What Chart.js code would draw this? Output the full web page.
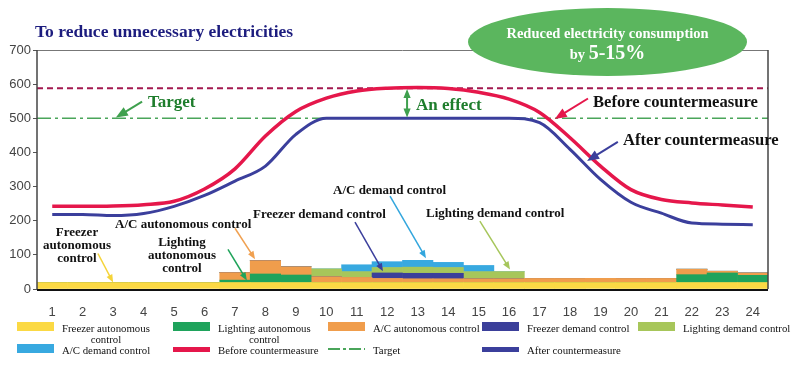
<!DOCTYPE html>
<html>
<head>
<meta charset="utf-8">
<script src="https://cdn.jsdelivr.net/npm/chart.js@4.4.1/dist/chart.umd.min.js"></script>
<style>
  body { margin: 0; background: #fff; }
  #wrap { position: relative; width: 800px; height: 365px; overflow: hidden; }
  canvas { position: absolute; left: 0; top: 0; }
  .note {
    position: absolute; white-space: nowrap; line-height: 1;
    font-family: 'Liberation Serif', 'DejaVu Serif', serif; font-weight: bold;
    color: #111; transform: translateY(-50%);
  }
  .center { text-align: center; transform: translate(-50%, -50%); }
  .title { color: #1c1c7e; font-size: 17.5px; }
  .green { color: #1e7d2c; font-size: 17px; }
  .big { font-size: 16.6px; }
  .small { font-size: 13px; line-height: 13px; }
  #bubble {
    position: absolute; left: 468px; top: 8px; width: 279px; height: 68px;
    border-radius: 50%; background: #5bb65e; color: #fff;
    font-family: 'Liberation Serif', serif; font-weight: bold; text-align: center;
  }
  .leg { position: absolute; font-family: 'Liberation Serif', serif; font-size: 10.8px; line-height: 11px; color: #111; white-space: nowrap; }
  .sw { position: absolute; width: 37px; }
</style>
</head>
<body>
<div id="wrap">
  <canvas id="chart" width="800" height="365"></canvas>

  <div class="note title" style="left:35px; top:32px;">To reduce unnecessary electricities</div>
  <div class="note green" style="left:148px; top:101px;">Target</div>
  <div class="note green" style="left:416px; top:104px;">An effect</div>
  <div class="note big" style="left:593px; top:102px;">Before countermeasure</div>
  <div class="note big" style="left:623px; top:140px;">After countermeasure</div>
  <div class="note small" style="left:333px; top:189px;">A/C demand control</div>
  <div class="note small" style="left:253px; top:213px;">Freezer demand control</div>
  <div class="note small" style="left:426px; top:212px;">Lighting demand control</div>
  <div class="note small" style="left:115px; top:223px;">A/C autonomous control</div>
  <div class="note small center" style="left:182px; top:254px;">Lighting<br>autonomous<br>control</div>
  <div class="note small center" style="left:77px; top:244px;">Freezer<br>autonomous<br>control</div>

  <div id="bubble">
    <div style="position:absolute; left:0; right:0; top:17px; font-size:14.5px;">Reduced electricity consumption</div>
    <div style="position:absolute; left:0; right:0; top:33px; font-size:14.5px;">by <span style="font-size:20px;">5-15%</span></div>
  </div>

  <div id="legend"></div>
</div>

<script>
// hours of the day
const hours = ['1','2','3','4','5','6','7','8','9','10','11','12','13','14','15','16','17','18','19','20','21','22','23','24'];

// stacked reductions (kW), bottom to top
const freezerAuto    = [19,19,19,19,19,19,19,19,19,19,19,19,19,19,19,19,19,19,19,19,19,19,19,19];
const lightingAuto   = [0,0,0,0,0,0,7,25,22,0,0,0,0,0,0,0,0,0,0,0,0,23,28,21];
const acAuto         = [0,0,0,0,0,0,22,39,24,17,15,12,11,11,11,11,12,12,12,12,12,16,5,7];
const freezerDemand  = [0,0,0,0,0,0,0,0,0,0,0,16,16,16,0,0,0,0,0,0,0,0,0,0];
const lightingDemand = [0,0,0,0,0,0,0,0,0,23,17,16,18,17,21,21,0,0,0,0,0,0,0,0];
const acDemand       = [0,0,0,0,0,0,0,0,0,0,20,17,20,15,18,0,0,0,0,0,0,0,0,0];

// consumption curves
const beforeMeasure = [242,242,243,247,257,293,352,448,520,559,580,588,590,587,576,556,517,443,360,291,262,252,246,240];
const afterMeasure  = [218,218,215,221,242,274,316,360,453,500,500,500,500,500,500,500,487,409,321,254,222,193,190,188];

const targetLevel = 500;
const peakLevel = 588;

// annotation arrows in data coordinates: [index, value] -> [index, value]
const arrows = [
  {from: [2.95, 549], to: [2.09, 502], color: '#3fa04e', w: 2, head: 12},
  {from: [17.59, 558], to: [16.5, 498], color: '#e5174b', w: 2, head: 12},
  {from: [18.57, 431], to: [17.56, 375], color: '#3b3f9c', w: 2, head: 12},
  {from: [11.09, 272], to: [12.27, 90], color: '#33a6dd', w: 1.5, head: 8},
  {from: [9.94, 196], to: [10.86, 52], color: '#3b3f9c', w: 1.5, head: 8},
  {from: [14.04, 199], to: [15.03, 57], color: '#a6c65b', w: 1.5, head: 8},
  {from: [6.0, 178], to: [6.66, 87], color: '#f0a050', w: 1.5, head: 8},
  {from: [5.77, 116], to: [6.39, 25], color: '#1fa35a', w: 1.5, head: 8},
  {from: [1.5, 104], to: [2.0, 19], color: '#f5d43a', w: 1.5, head: 8}
];

function drawHead(ctx, x, y, ang, head) {
  ctx.beginPath();
  ctx.moveTo(x, y);
  ctx.lineTo(x - head * Math.cos(ang) + head * 0.4 * Math.sin(ang), y - head * Math.sin(ang) - head * 0.4 * Math.cos(ang));
  ctx.lineTo(x - head * Math.cos(ang) - head * 0.4 * Math.sin(ang), y - head * Math.sin(ang) + head * 0.4 * Math.cos(ang));
  ctx.closePath();
  ctx.fill();
}

function drawArrow(ctx, x1, y1, x2, y2, color, w, head, both) {
  const ang = Math.atan2(y2 - y1, x2 - x1);
  ctx.strokeStyle = color;
  ctx.fillStyle = color;
  ctx.lineWidth = w;
  ctx.setLineDash([]);
  ctx.beginPath();
  ctx.moveTo(x1 + (both ? head * 0.8 * Math.cos(ang) : 0), y1 + (both ? head * 0.8 * Math.sin(ang) : 0));
  ctx.lineTo(x2 - head * 0.8 * Math.cos(ang), y2 - head * 0.8 * Math.sin(ang));
  ctx.stroke();
  drawHead(ctx, x2, y2, ang, head);
  if (both) drawHead(ctx, x1, y1, ang + Math.PI, head);
}

const decorations = {
  id: 'decorations',
  beforeDatasetsDraw(chart) {
    const {ctx, chartArea: a, scales: {y}} = chart;
    ctx.save();
    // peak of the "before" curve
    let py = y.getPixelForValue(peakLevel);
    ctx.strokeStyle = '#a3194f';
    ctx.lineWidth = 2;
    ctx.setLineDash([6, 4]);
    ctx.beginPath(); ctx.moveTo(a.left, py); ctx.lineTo(a.right, py); ctx.stroke();
    // target
    py = y.getPixelForValue(targetLevel);
    ctx.strokeStyle = '#4aa55a';
    ctx.lineWidth = 1.5;
    ctx.setLineDash([14, 4, 3, 4]);
    ctx.beginPath(); ctx.moveTo(a.left, py); ctx.lineTo(a.right, py); ctx.stroke();
    ctx.restore();
  },
  afterDatasetsDraw(chart) {
    const {ctx, chartArea: a, scales: {x, y}} = chart;
    ctx.save();
    // frame
    ctx.setLineDash([]);
    ctx.lineWidth = 1;
    ctx.strokeStyle = '#777';
    ctx.beginPath(); ctx.moveTo(a.left, a.top + 0.5); ctx.lineTo(a.right, a.top + 0.5); ctx.stroke();
    ctx.lineWidth = 1.5;
    ctx.strokeStyle = '#444';
    ctx.beginPath(); ctx.moveTo(a.left, a.top); ctx.lineTo(a.left, a.bottom); ctx.stroke();
    ctx.beginPath(); ctx.moveTo(a.right, a.top); ctx.lineTo(a.right, a.bottom); ctx.stroke();
    ctx.lineWidth = 2;
    ctx.strokeStyle = '#111';
    ctx.beginPath(); ctx.moveTo(a.left, a.bottom + 1); ctx.lineTo(a.right, a.bottom + 1); ctx.stroke();

    arrows.forEach(ar => {
      drawArrow(ctx,
        x.getPixelForValue(ar.from[0]), y.getPixelForValue(ar.from[1]),
        x.getPixelForValue(ar.to[0]), y.getPixelForValue(ar.to[1]),
        ar.color, ar.w, ar.head, false);
    });
    // "An effect" double arrow between the peak and the target
    const ex = x.getPixelForValue(11.65);
    drawArrow(ctx, ex, y.getPixelForValue(peakLevel - 2), ex, y.getPixelForValue(targetLevel + 2), '#3fa04e', 2, 9, true);
    ctx.restore();
  }
};

const barStyle = {type: 'bar', order: 1, borderWidth: 0, categoryPercentage: 1, barPercentage: 1};

const ctx = document.getElementById('chart').getContext('2d');
new Chart(ctx, {
  data: {
    labels: hours,
    datasets: [
      {...barStyle, label: 'Freezer autonomous control', data: freezerAuto, backgroundColor: '#fbd944'},
      {...barStyle, label: 'Lighting autonomous control', data: lightingAuto, backgroundColor: '#1fa35c'},
      {...barStyle, label: 'A/C autonomous control', data: acAuto, backgroundColor: '#f09d4c'},
      {...barStyle, label: 'Freezer demand control', data: freezerDemand, backgroundColor: '#3b3f9a'},
      {...barStyle, label: 'Lighting demand control', data: lightingDemand, backgroundColor: '#a7c65a'},
      {...barStyle, label: 'A/C demand control', data: acDemand, backgroundColor: '#38a9e0'},
      {
        type: 'line', order: 0, stack: 'before', label: 'Before countermeasure',
        data: beforeMeasure, borderColor: '#e5174b', borderWidth: 3.5,
        pointRadius: 0, cubicInterpolationMode: 'monotone', fill: false
      },
      {
        type: 'line', order: 0, stack: 'after', label: 'After countermeasure',
        data: afterMeasure, borderColor: '#3b3f9c', borderWidth: 3,
        pointRadius: 0, cubicInterpolationMode: 'monotone', fill: false
      }
    ]
  },
  options: {
    responsive: false,
    animation: false,
    devicePixelRatio: 1,
    layout: {padding: {left: 0, top: 50, right: 32, bottom: 48}},
    plugins: {legend: {display: false}, tooltip: {enabled: false}},
    scales: {
      x: {
        stacked: true,
        grid: {display: false},
        border: {display: false},
        ticks: {color: '#444', padding: 8, font: {family: 'Liberation Sans', size: 13}},
        afterFit: s => { s.height = 28; }
      },
      y: {
        stacked: true,
        min: 0,
        max: 700,
        grid: {drawOnChartArea: false, tickLength: 4, color: '#555'},
        border: {display: false},
        ticks: {stepSize: 100, color: '#444', padding: 2, font: {family: 'Liberation Sans', size: 13}},
        afterFit: s => { s.width = 37; }
      }
    }
  },
  plugins: [decorations]
});

// legend below the chart
const legendItems = [
  {text: 'Freezer autonomous<br>control', color: '#fbd944', kind: 'box', col: 0, row: 0},
  {text: 'Lighting autonomous<br>control', color: '#1fa35c', kind: 'box', col: 1, row: 0},
  {text: 'A/C autonomous control', color: '#f09d4c', kind: 'box', col: 2, row: 0},
  {text: 'Freezer demand control', color: '#3b3f9a', kind: 'box', col: 3, row: 0},
  {text: 'Lighting demand control', color: '#a7c65a', kind: 'box', col: 4, row: 0},
  {text: 'A/C demand control', color: '#38a9e0', kind: 'box', col: 0, row: 1},
  {text: 'Before countermeasure', color: '#e5174b', kind: 'line', col: 1, row: 1},
  {text: 'Target', color: '#4aa55a', kind: 'dash', col: 2, row: 1},
  {text: 'After countermeasure', color: '#3b3f9c', kind: 'line', col: 3, row: 1}
];
const colX = [17, 173, 328, 482, 638];
const rowY = [322, 344];
const legend = document.getElementById('legend');
legendItems.forEach(it => {
  const x = colX[it.col], y = rowY[it.row];
  const sw = document.createElement('div');
  sw.className = 'sw';
  sw.style.left = x + 'px';
  if (it.kind === 'box') {
    sw.style.top = y + 'px'; sw.style.height = '9px'; sw.style.background = it.color;
  } else if (it.kind === 'line') {
    sw.style.top = (y + 3) + 'px'; sw.style.height = '5px'; sw.style.background = it.color;
  } else {
    sw.style.top = (y + 4) + 'px'; sw.style.height = '2px';
    sw.style.background = `repeating-linear-gradient(90deg, ${it.color} 0 12px, transparent 12px 15px, ${it.color} 15px 18px, transparent 18px 21px)`;
  }
  legend.appendChild(sw);
  const t = document.createElement('div');
  t.className = 'leg';
  t.style.left = (x + 45) + 'px';
  t.style.top = (y + 1) + 'px';
  if (it.text.includes('<br>')) t.style.textAlign = 'center';
  t.innerHTML = it.text;
  legend.appendChild(t);
});
</script>
</body>
</html>
